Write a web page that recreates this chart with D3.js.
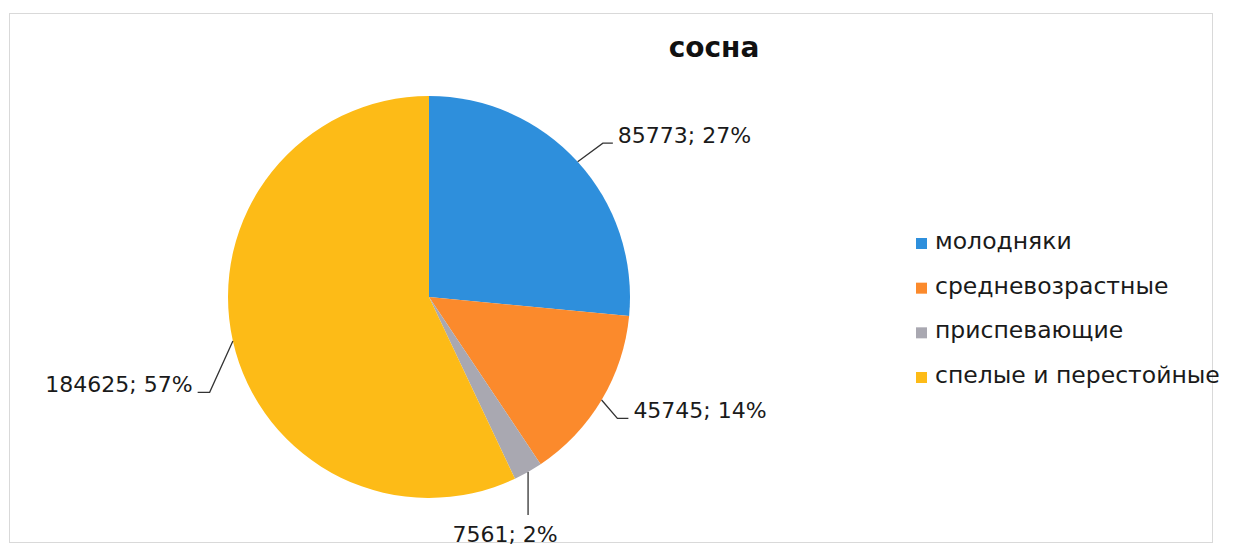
<!DOCTYPE html>
<html>
<head>
<meta charset="utf-8">
<script src="https://cdn.jsdelivr.net/npm/d3@7"></script>
<style>
  html, body { margin: 0; padding: 0; background: #fff; }
  svg { display: block; }
  text { font-family: "DejaVu Sans", Verdana, sans-serif; fill: #1a1a1a; }
</style>
</head>
<body>
<svg id="chart" width="1234" height="549"></svg>
<script>
// Pine stands by age group
const chartTitle = "сосна";
const categories = ["молодняки", "средневозрастные", "приспевающие", "спелые и перестойные"];
const values = [85773, 45745, 7561, 184625];
const percentLabels = ["27%", "14%", "2%", "57%"];
const colors = ["#2e8fdc", "#fb8a2c", "#a9a8b1", "#fdbb17"];

const W = 1234, H = 549;
const svg = d3.select("#chart");

// chart area frame
svg.append("rect")
  .attr("x", 9.5).attr("y", 13.5)
  .attr("width", 1203).attr("height", 529)
  .attr("fill", "#fff")
  .attr("stroke", "#d9d9d9").attr("stroke-width", 1);

svg.append("text")
  .attr("x", 714).attr("y", 57)
  .attr("text-anchor", "middle")
  .style("font-size", "28px").style("font-weight", "bold")
  .style("fill", "#111")
  .text(chartTitle);

const cx = 429, cy = 297, R = 201;
const color = d3.scaleOrdinal().domain(categories).range(colors);

const pie = d3.pie().sort(null).value(d => d.value);
const data = categories.map((c, i) => ({ name: c, value: values[i], pct: percentLabels[i] }));
const arcs = pie(data);
const arc = d3.arc().innerRadius(0).outerRadius(R);

const g = svg.append("g").attr("transform", `translate(${cx},${cy})`);

g.selectAll("path.slice")
  .data(arcs)
  .join("path")
  .attr("class", "slice")
  .attr("d", arc)
  .attr("fill", d => color(d.data.name));

// Leader line layout per slice: elbow as polar (radius factor, angle in degrees), tail length
const leaderLayout = [
  { rf: 1.155, ang: 48.5, tail: 10, side: 1 },
  { rf: 1.115, ang: 122.8, tail: 11, side: 1 },
  { rf: null, drop: 43, side: 0 },
  { rf: 1.19, ang: 246.5, tail: 12, side: -1 }
];

const polar = (r, aDeg) => {
  const a = aDeg * Math.PI / 180;
  return [r * Math.sin(a), -r * Math.cos(a)];
};

arcs.forEach((d, i) => {
  const mid = (d.startAngle + d.endAngle) / 2;
  const p0 = [R * Math.sin(mid), -R * Math.cos(mid)];
  const L = leaderLayout[i];
  const label = `${d.data.value}; ${d.data.pct}`;
  let pts, tx, ty, anchor;
  if (L.side === 0) {
    const p1 = [p0[0], p0[1] + L.drop];
    pts = [p0, p1];
    tx = p1[0] - 23; ty = p1[1] + 27; anchor = "middle";
  } else {
    const p1 = polar(R * L.rf, L.ang);
    const p2 = [p1[0] + L.side * L.tail, p1[1]];
    pts = [p0, p1, p2];
    tx = p2[0] + L.side * 5; ty = p2[1]; anchor = L.side > 0 ? "start" : "end";
  }
  g.append("path")
    .attr("d", d3.line()(pts))
    .attr("fill", "none")
    .attr("stroke", "#333").attr("stroke-width", 1.3);
  g.append("text")
    .attr("x", tx).attr("y", ty)
    .attr("text-anchor", anchor)
    .style("font-size", "22px")
    .text(label);
});

// legend
const legend = svg.append("g").attr("transform", "translate(916,0)");
const rowY = d3.scalePoint().domain(categories).range([249, 383]);
const rows = legend.selectAll("g.item").data(categories).join("g").attr("class", "item")
  .attr("transform", d => `translate(0,${rowY(d)})`);
rows.append("rect")
  .attr("x", 0).attr("y", -11).attr("width", 11).attr("height", 11)
  .attr("fill", d => color(d));
rows.append("text")
  .attr("x", 19).attr("y", 0)
  .style("font-size", "23.5px")
  .text(d => d);
</script>
</body>
</html>
